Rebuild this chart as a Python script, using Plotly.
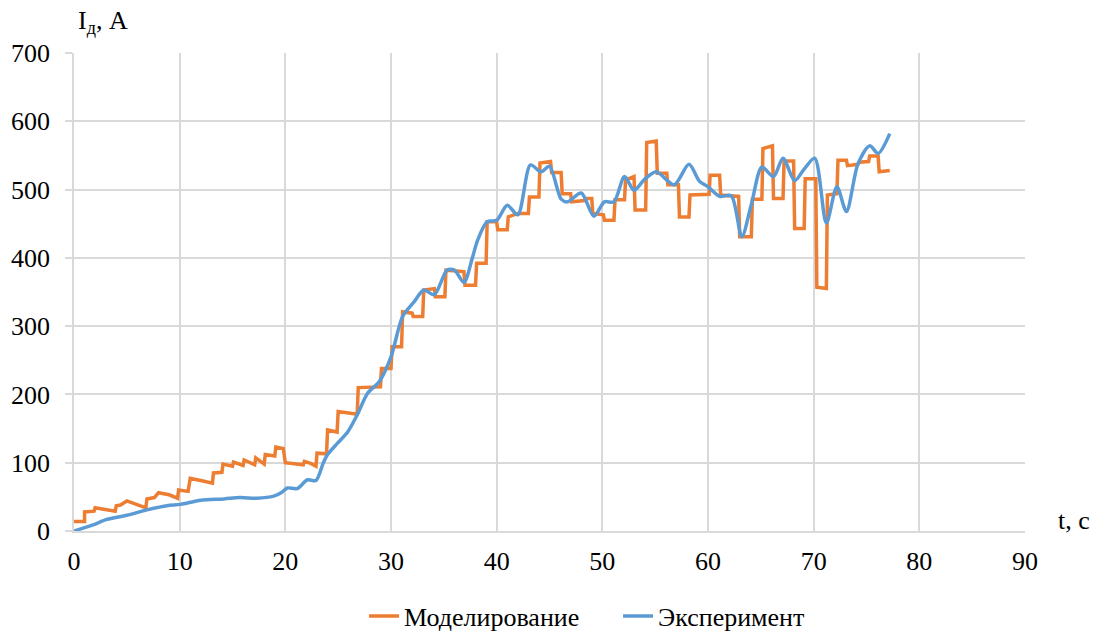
import plotly.graph_objects as go

# Моделирование: stepped model current (time, s / current, A)
model_t = [0, 1.0, 1.0, 1.9, 2.0, 3.0, 3.9, 4.0, 4.4, 5.0, 6.8, 6.9, 7.6, 8.0, 8.4, 9.0, 9.8, 9.9,
           10.8, 11.0, 12.0, 13.1, 13.2, 14.0, 14.1, 15.0, 15.1, 16.0, 16.1, 17.1, 17.2, 18.0, 18.1,
           19.0, 19.1, 19.8, 20.0, 20.8, 21.7, 21.8, 22.4, 22.9, 23.0, 23.9, 24.0, 24.9, 25.0, 26.8,
           26.9, 29.0, 29.1, 30.0, 30.1, 31.0, 31.1, 32.0, 32.1, 33.0, 33.1, 34.1, 34.2, 35.1, 35.2,
           36.9, 37.0, 38.0, 38.1, 39.0, 39.1, 40.0, 40.1, 41.0, 41.1, 42.0, 43.0, 43.1, 44.0, 44.1,
           45.1, 45.2, 46.1, 46.2, 47.0, 47.1, 48.3, 48.4, 49.0, 49.1, 50.1, 50.2, 51.1, 51.2, 52.1,
           52.2, 53.0, 53.1, 54.1, 54.2, 55.1, 55.2, 56.1, 56.2, 57.2, 57.3, 58.2, 58.3, 60.1, 60.2,
           61.1, 61.2, 62.9, 63.0, 64.1, 64.2, 65.1, 65.2, 66.1, 66.2, 67.1, 67.2, 68.1, 68.2, 69.1,
           69.2, 70.2, 70.3, 71.2, 71.3, 72.2, 72.3, 73.1, 73.2, 74.2, 74.3, 75.2, 75.3, 76.1, 76.2,
           77.2]
model_i = [14, 14, 28, 29, 34, 32, 29, 37, 38, 44, 34, 47, 49, 56, 55, 53, 48, 60,
           58, 77, 74, 70, 85, 86, 98, 95, 101, 96, 104, 97, 107, 98, 112,
           110, 123, 121, 100, 98, 97, 102, 99, 95, 114, 113, 148, 145, 175, 171,
           210, 211, 238, 238, 270, 270, 321, 319, 314, 314, 353, 355, 343, 343, 382,
           380, 360, 360, 392, 392, 453, 453, 441, 441, 460, 465, 465, 489, 489, 539,
           541, 525, 525, 494, 494, 482, 484, 487, 487, 465, 463, 455, 455, 485, 485,
           514, 519, 470, 470, 569, 571, 524, 524, 507, 507, 460, 460, 492, 493, 521,
           521, 492, 490, 431, 431, 486, 486, 560, 564, 487, 487, 542, 542, 443, 443,
           516, 516, 357, 355, 492, 494, 543, 543, 535, 537, 540, 541, 549, 549, 526,
           528]

# Эксперимент: measured current
exp_t = [0, 1.8, 3.1, 5.0, 6.9, 8.8, 10.1, 12.0, 14.2, 15.7, 17.3, 18.9, 19.6, 20.2, 21.1, 22.1,
         22.9, 23.6, 24.0, 24.9, 25.9, 26.8, 27.8, 28.9, 30.0, 31.1, 32.2, 33.1, 34.1, 35.3, 36.0,
         36.9, 37.7, 38.2, 39.1, 40.0, 41.0, 42.0, 43.2, 44.2, 45.0, 46.1, 46.7, 48.0, 49.2, 50.2,
         51.1, 52.1, 53.0, 54.0, 55.1, 56.8, 58.2, 59.2, 60.0, 61.1, 62.2, 63.2, 64.1, 65.1, 66.2,
         67.1, 68.2, 69.1, 70.1, 71.2, 72.2, 73.1, 74.2, 75.3, 76.1, 77.2]
exp_i = [0, 9, 17, 23, 31, 37, 39, 45, 47, 49, 48, 51, 56, 63, 62, 75,
         74, 100, 112, 128, 145, 170, 202, 219, 255, 314, 336, 353, 346, 382, 382,
         364, 400, 426, 453, 455, 477, 463, 536, 526, 534, 486, 482, 495, 461, 482,
         482, 519, 499, 515, 526, 507, 537, 512, 504, 490, 491, 431, 478, 533, 519,
         546, 513, 530, 546, 451, 504, 468, 538, 564, 553, 582]

x_ticks = list(range(0, 91, 10))
y_ticks = list(range(0, 701, 100))

FONT = "Liberation Serif"
FS = 26
GRID = "#d9d9d9"

fig = go.Figure()
fig.add_trace(go.Scatter(x=model_t, y=model_i, mode="lines", name="Моделирование",
                         line=dict(color="#ED7D31", width=3.5)))
fig.add_trace(go.Scatter(x=exp_t, y=exp_i, mode="lines", name="Эксперимент",
                         line=dict(color="#5B9BD5", width=3.5, shape="spline", smoothing=0.8)))

fig.update_layout(
    width=1101, height=634,
    margin=dict(l=74, r=76, t=53, b=103, autoexpand=False),
    paper_bgcolor="white", plot_bgcolor="white",
    font=dict(family=FONT, size=FS, color="#000000"),
    showlegend=True,
    legend=dict(orientation="h", x=0.305, xanchor="left", y=-0.178, yanchor="middle",
                font=dict(family=FONT, size=FS), entrywidth=209),
    xaxis=dict(range=[0, 90], tickvals=x_ticks, showgrid=True, gridcolor=GRID, gridwidth=1.5,
               showline=True, linecolor=GRID, linewidth=1.5, zeroline=False,
               ticks="outside", ticklen=6, tickcolor="rgba(0,0,0,0)",
               tickfont=dict(family=FONT, size=FS)),
    yaxis=dict(range=[0, 700], tickvals=y_ticks, showgrid=True, gridcolor=GRID, gridwidth=1.5,
               showline=True, linecolor=GRID, linewidth=1.5, zeroline=False,
               ticks="outside", ticklen=7, tickcolor=GRID, tickwidth=1.5,
               ticklabelstandoff=10, tickfont=dict(family=FONT, size=FS)),
    annotations=[
        dict(text="I<sub>д</sub>, A", xref="paper", yref="paper", x=0.002, y=1.065,
             xanchor="left", yanchor="middle", showarrow=False,
             font=dict(family=FONT, size=FS)),
        dict(text="t, c", xref="paper", yref="paper", x=1.033, y=0.023,
             xanchor="left", yanchor="middle", showarrow=False,
             font=dict(family=FONT, size=FS)),
    ],
)

fig.write_html("out.html")
